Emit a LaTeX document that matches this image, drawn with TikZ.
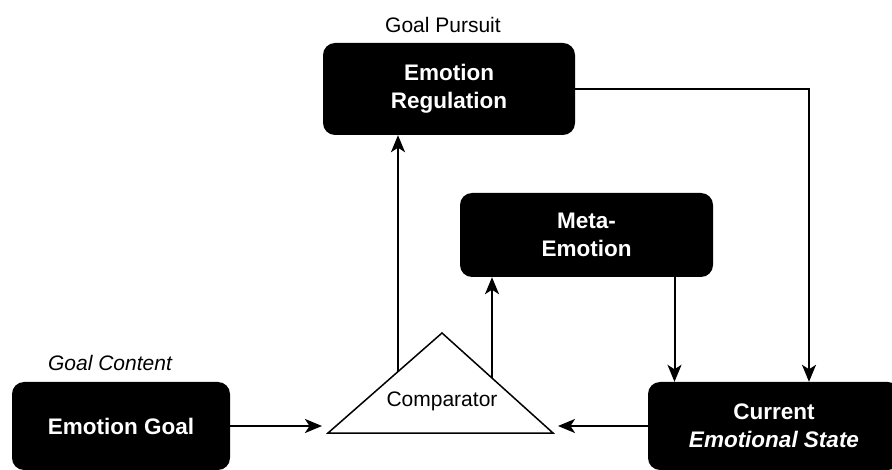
\documentclass[tikz,border=0pt]{standalone}
\usepackage{fontspec}
\setmainfont{Liberation Sans}
\usetikzlibrary{arrows.meta}

\begin{document}
\begin{tikzpicture}[x=1pt,y=-1pt]
\tikzstyle{every node}+=[inner sep=0pt]
\tikzstyle{blackbox}=[fill=black, rounded corners=12pt, text=white, align=center,
  font=\bfseries\fontsize{22.5}{28}\selectfont]
\tikzstyle{caption}=[font=\fontsize{21}{25}\selectfont]
\tikzstyle{link}=[line width=2pt, -{Stealth[length=17pt,width=14pt,inset=4.5pt]}]
\useasboundingbox (0,0) rectangle (892,470);

% boxes
\node [blackbox, minimum width=252pt, minimum height=92pt] (reg) at (449,89) {Emotion\\Regulation};
\node [blackbox, minimum width=253pt, minimum height=84pt] (meta) at (586.5,235) {Meta-\\Emotion};
\node [blackbox, minimum width=218pt, minimum height=88pt] (goal) at (121,426) {Emotion Goal};
\node [blackbox, minimum width=252pt, minimum height=88pt] (cur) at (774,426) {Current\\\textit{Emotional State}};

% labels
\node [caption] (pursuit) at (443,25) {Goal Pursuit};
\node [caption] (content) at (110,363) {\itshape Goal Content};

% comparator
\coordinate (apex) at (442,333);
\coordinate (baseL) at (328,433);
\coordinate (baseR) at (553,433);
\draw [line width=1.5pt] (apex) -- (baseL) -- (baseR) -- cycle;
\node [caption] (cmp) at (442,401) {Comparator};
\coordinate (cmpL) at (398,371.6);
\coordinate (cmpR) at (492,378);

% connectors
\draw [link, shorten >=6pt] (goal.east) -- (goal.east -| baseL);
\draw [link, shorten >=5pt] (cur.west) -- (cur.west -| baseR);
\draw [link] (cmpL) -- (cmpL |- reg.south);
\draw [link] (cmpR) -- (cmpR |- meta.south);
\draw [link] ([xshift=88pt]meta.south) -- ([xshift=88pt]meta.south |- cur.north);
\draw [link] (reg.east) -| ([xshift=35pt]cur.north);
\end{tikzpicture}
\end{document}
